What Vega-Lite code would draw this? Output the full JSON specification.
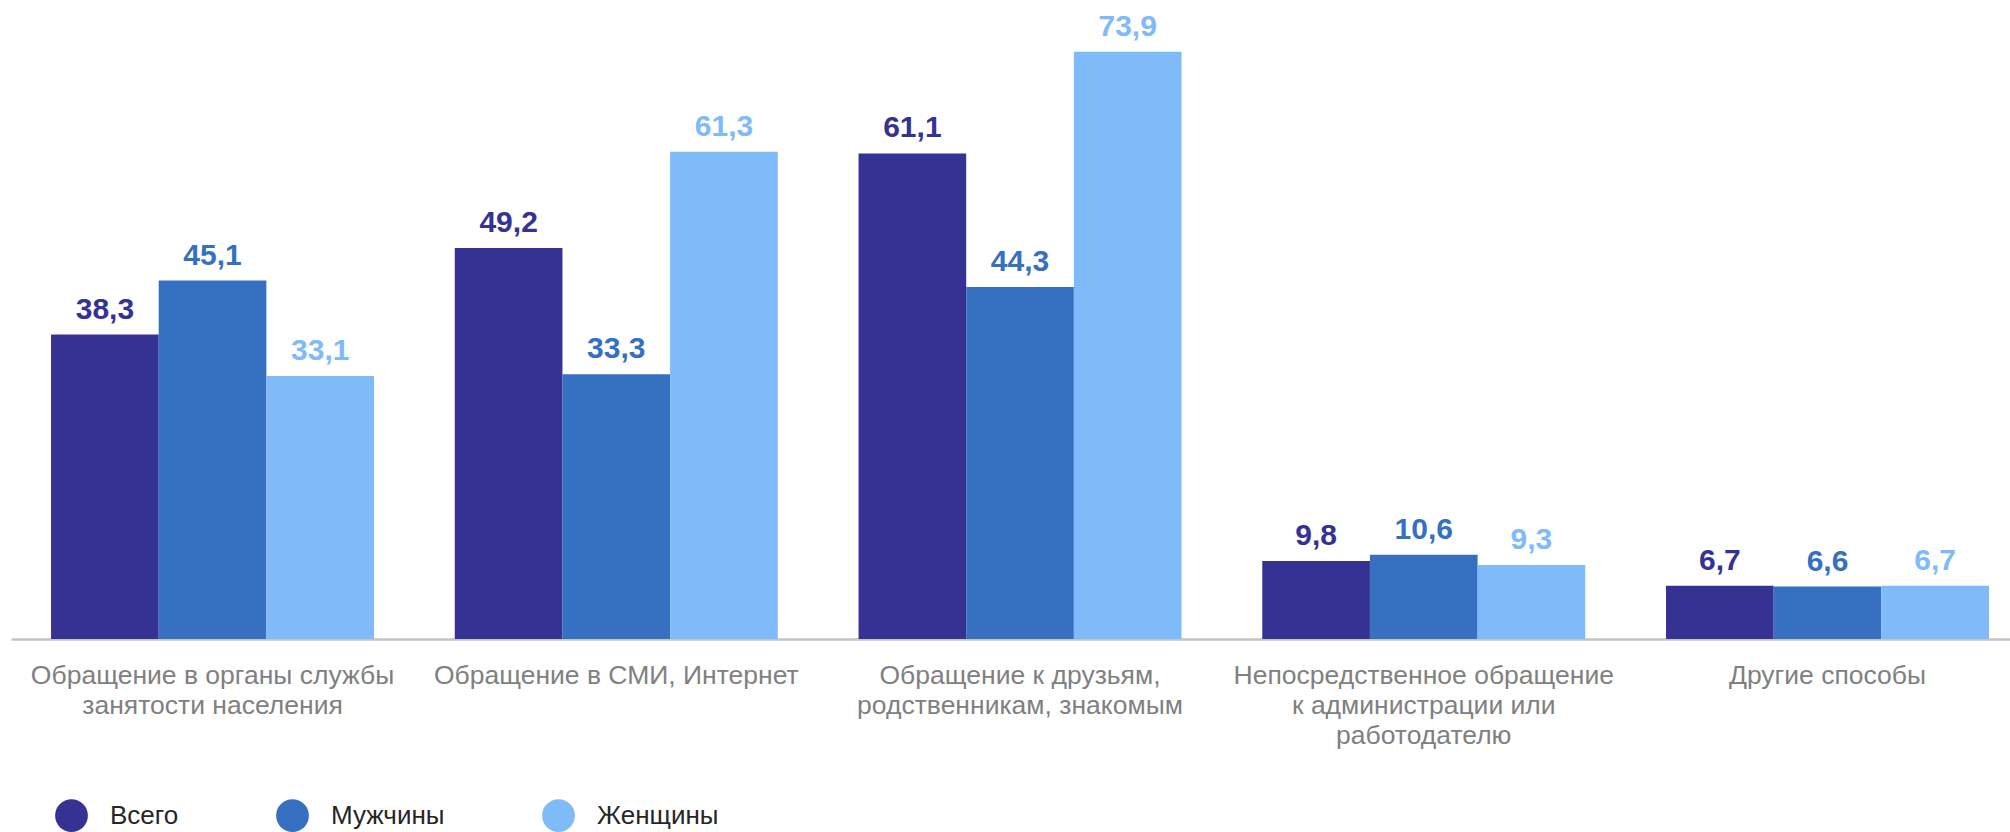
{
  "$schema": "https://vega.github.io/schema/vega-lite/v6.json",
  "autosize": "none",
  "padding": {"left": 11, "top": 0, "right": 0, "bottom": 193},
  "width": 1999,
  "height": 639,
  "background": "white",
  "config": {
    "view": {"stroke": null},
    "font": "Liberation Sans",
    "locale": {"number": {"decimal": ",", "thousands": " ", "grouping": [3], "currency": ["", ""]}}
  },
  "data": {
    "values": [
      {"cat": "Обращение в органы службы|занятости населения", "group": "Всего", "value": 38.3},
      {"cat": "Обращение в органы службы|занятости населения", "group": "Мужчины", "value": 45.1},
      {"cat": "Обращение в органы службы|занятости населения", "group": "Женщины", "value": 33.1},
      {"cat": "Обращение в СМИ, Интернет", "group": "Всего", "value": 49.2},
      {"cat": "Обращение в СМИ, Интернет", "group": "Мужчины", "value": 33.3},
      {"cat": "Обращение в СМИ, Интернет", "group": "Женщины", "value": 61.3},
      {"cat": "Обращение к друзьям,|родственникам, знакомым", "group": "Всего", "value": 61.1},
      {"cat": "Обращение к друзьям,|родственникам, знакомым", "group": "Мужчины", "value": 44.3},
      {"cat": "Обращение к друзьям,|родственникам, знакомым", "group": "Женщины", "value": 73.9},
      {"cat": "Непосредственное обращение|к администрации или|работодателю", "group": "Всего", "value": 9.8},
      {"cat": "Непосредственное обращение|к администрации или|работодателю", "group": "Мужчины", "value": 10.6},
      {"cat": "Непосредственное обращение|к администрации или|работодателю", "group": "Женщины", "value": 9.3},
      {"cat": "Другие способы", "group": "Всего", "value": 6.7},
      {"cat": "Другие способы", "group": "Мужчины", "value": 6.6},
      {"cat": "Другие способы", "group": "Женщины", "value": 6.7}
    ]
  },
  "encoding": {
    "x": {
      "field": "cat", "type": "nominal", "sort": null, "title": null,
      "scale": {"paddingInner": 0.2, "paddingOuter": 0.0756, "align": 0.656},
      "axis": {
        "labelAngle": 0, "labelExpr": "split(datum.label, '|')",
        "labelFont": "Liberation Sans", "labelFontSize": 26.5, "labelColor": "#808080",
        "labelLineHeight": 30, "labelBaseline": "alphabetic", "labelPadding": 44,
        "ticks": false, "tickSize": 0, "domainColor": "#c4c4c4", "domainWidth": 2.5,
        "labelLimit": 0
      }
    },
    "xOffset": {
      "field": "group", "type": "nominal", "sort": ["Всего", "Мужчины", "Женщины"],
      "scale": {"paddingInner": 0, "paddingOuter": 0}
    },
    "y": {
      "field": "value", "type": "quantitative", "title": null,
      "scale": {"domain": [0, 80.4], "nice": false},
      "axis": null
    },
    "color": {
      "field": "group", "type": "nominal", "sort": ["Всего", "Мужчины", "Женщины"],
      "scale": {"domain": ["Всего", "Мужчины", "Женщины"], "range": ["#353293", "#3570c1", "#7fbaf9"]},
      "legend": {
        "title": null, "orient": "none", "legendX": 44, "legendY": 799,
        "direction": "horizontal", "symbolType": "circle", "symbolSize": 1075,
        "symbolStrokeWidth": 0, "symbolOpacity": 1,
        "labelFont": "Liberation Sans", "labelFontSize": 26, "labelColor": "#262626",
        "labelOffset": 22, "columnPadding": 97, "padding": 0, "labelLimit": 0
      }
    }
  },
  "layer": [
    {"mark": {"type": "bar", "cornerRadius": 0}},
    {
      "mark": {"type": "text", "baseline": "alphabetic", "dy": -16, "fontSize": 30, "fontWeight": "bold", "font": "Liberation Sans"},
      "encoding": {"text": {"field": "value", "type": "quantitative", "format": ".1f"}}
    }
  ]
}
